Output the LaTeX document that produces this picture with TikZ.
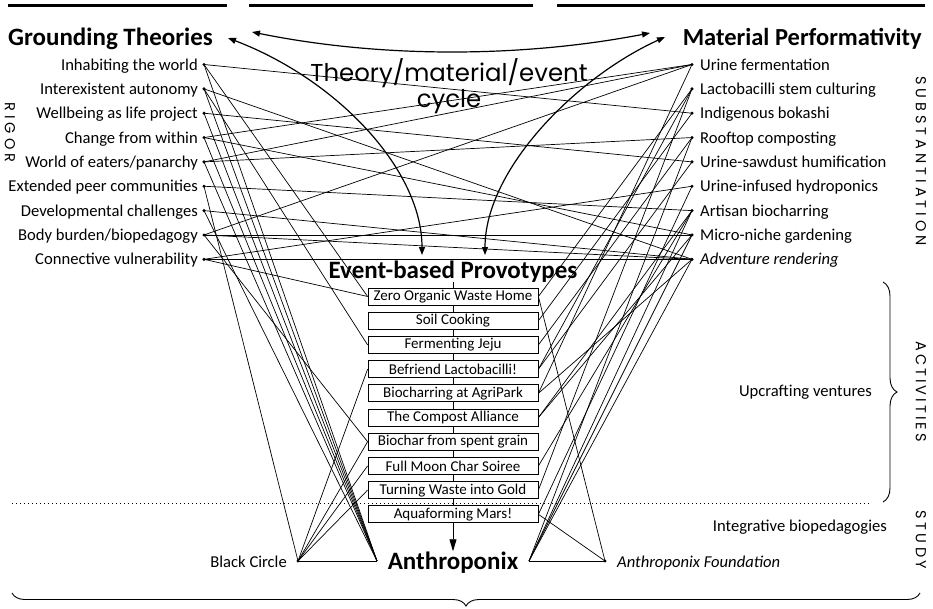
\documentclass[tikz,border=0pt]{standalone}
\usepackage{fontspec}
\setmainfont{Carlito}
\newfontfamily\popp{Poppins}
\usetikzlibrary{arrows.meta,decorations.pathreplacing,backgrounds}
\newcommand{\spaced}[2]{{\spaceskip=#1\relax #2}}
\begin{document}
\begin{tikzpicture}[x=1pt,y=-1pt,
  every node/.style={inner sep=0pt},
  lbl/.style={font=\fontsize{16.6}{18}\selectfont},
  ttl/.style={font=\fontsize{25}{27}\selectfont\bfseries},
  dot/.style={circle,fill=black,minimum size=3.4pt,inner sep=0pt},
  box/.style={draw,fill=white,minimum width=170pt,minimum height=17pt,font=\fontsize{15}{16}\selectfont,line width=0.8pt},
  conn/.style={line width=0.7pt},
  arr/.style={line width=1.2pt,{Triangle[length=8pt,width=6pt]}-{Triangle[length=8pt,width=6pt]}},
  vlab/.style={font=\popp\fontsize{14.5}{15}\selectfont,rotate=-90},
]
\useasboundingbox (0,0) rectangle (933,608);

% top rules
\draw[line width=3pt] (8,5) -- (227,5);
\draw[line width=3pt] (249,5) -- (533,5);
\draw[line width=3pt] (557,5) -- (925,5);

% headings
\node[ttl,anchor=base west] (gt) at (8,45) {Grounding Theories};
\node[ttl,anchor=base east,font=\fontsize{24.5}{27}\selectfont\bfseries] (mp) at (922,45) {Material Performativity};
\node[ttl,anchor=base] (ev) at (453,278) {Event-based Provotypes};
\node[ttl,anchor=base] (an) at (453,569) {Anthroponix};
\node[font=\popp\fontsize{24.4}{22}\selectfont,align=center] (cyc) at (449,86) {Theory/material/event\\cycle};

% left items
\node[lbl,anchor=base east] (tl1) at (198,70.0) {Inhabiting the world};
\node[lbl,anchor=base east] (tl2) at (198,94.35) {Interexistent autonomy};
\node[lbl,anchor=base east] (tl3) at (198,118.7) {Wellbeing as life project};
\node[lbl,anchor=base east] (tl4) at (198,143.05) {Change from within};
\node[lbl,anchor=base east] (tl5) at (198,167.4) {World of eaters/panarchy};
\node[lbl,anchor=base east] (tl6) at (198,191.75) {Extended peer communities};
\node[lbl,anchor=base east] (tl7) at (198,216.1) {Developmental challenges};
\node[lbl,anchor=base east] (tl8) at (198,240.45) {Body burden/biopedagogy};
\node[lbl,anchor=base east] (tl9) at (198,264.8) {Connective vulnerability};
\node[dot] (l1) at (204,64.5) {};
\node[dot] (l2) at (204,88.85) {};
\node[dot] (l3) at (204,113.2) {};
\node[dot] (l4) at (204,137.55) {};
\node[dot] (l5) at (204,161.9) {};
\node[dot] (l6) at (204,186.25) {};
\node[dot] (l7) at (204,210.6) {};
\node[dot] (l8) at (204,234.95) {};
\node[dot] (l9) at (204,259.3) {};

% right items
\node[lbl,anchor=base west] (tr1) at (700,70.0) {Urine fermentation};
\node[lbl,anchor=base west] (tr2) at (700,94.35) {Lactobacilli stem culturing};
\node[lbl,anchor=base west] (tr3) at (700,118.7) {Indigenous bokashi};
\node[lbl,anchor=base west] (tr4) at (700,143.05) {Rooftop composting};
\node[lbl,anchor=base west] (tr5) at (700,167.4) {Urine-sawdust humification};
\node[lbl,anchor=base west] (tr6) at (700,191.75) {Urine-infused hydroponics};
\node[lbl,anchor=base west] (tr7) at (700,216.1) {Artisan biocharring};
\node[lbl,anchor=base west] (tr8) at (700,240.45) {Micro-niche gardening};
\node[lbl,anchor=base west] (tr9) at (700,264.8) {\itshape Adventure rendering};
\node[dot] (r1) at (692,64.5) {};
\node[dot] (r2) at (692,88.85) {};
\node[dot] (r3) at (692,113.2) {};
\node[dot] (r4) at (692,137.55) {};
\node[dot] (r5) at (692,161.9) {};
\node[dot] (r6) at (692,186.25) {};
\node[dot] (r7) at (692,210.6) {};
\node[dot] (r8) at (692,234.95) {};
\node[dot] (r9) at (692,259.3) {};

% boxes
\node[box] (b1) at (453,296.5) {Zero Organic Waste Home};
\node[box] (b2) at (453,320.7) {Soil Cooking};
\node[box] (b3) at (453,344.9) {Fermenting Jeju};
\node[box] (b4) at (453,369.1) {Befriend Lactobacilli!};
\node[box] (b5) at (453,393.3) {Biocharring at AgriPark};
\node[box] (b6) at (453,417.5) {The Compost Alliance};
\node[box] (b7) at (453,441.7) {Biochar from spent grain};
\node[box] (b8) at (453,465.9) {Full Moon Char Soiree};
\node[box] (b9) at (453,490.1) {Turning Waste into Gold};
\node[box] (b10) at (453,514.3) {Aquaforming Mars!};

% bottom items
\node[lbl,anchor=base east] (tbc) at (287,567) {Black Circle};
\node[dot] (bc) at (298,561) {};
\node[lbl,anchor=base west] (taf) at (617,567) {\itshape Anthroponix Foundation};
\node[dot] (af) at (605,561) {};
\coordinate (anl) at (377,561);
\coordinate (anr) at (529,561);

% side texts
\node[lbl,anchor=base east] (upc) at (872,396) {Upcrafting ventures};
\node[lbl,anchor=base east] (ibp) at (887,531) {Integrative biopedagogies};
\node[vlab] (rig) at (10,132.5) {\spaced{4pt}{R I G O R}};
\node[vlab] (sub) at (921,161) {\spaced{4pt}{S U B S T A N T I A T I O N}};
\node[vlab] (act) at (921,391.5) {\spaced{3pt}{A C T I V I T I E S}};
\node[vlab] (stu) at (921,540) {\spaced{3.4pt}{S T U D Y}};

% cycle arrow end points
\coordinate (ga) at (228,38);
\coordinate (gb) at (252,32);
\coordinate (ma) at (650,33);
\coordinate (mb) at (665,37);
\coordinate (ea) at (422,255);
\coordinate (eb) at (485,255);

\begin{scope}[on background layer]
  % theory - material
  \draw[conn] (l1.center) -- (r3.center);
  \draw[conn] (l2.center) -- (r9.center);
  \draw[conn] (l3.center) -- (r5.center);
  \draw[conn] (l4.center) -- (r1.center);
  \draw[conn] (l4.center) -- (r8.center);
  \draw[conn] (l5.center) -- (r1.center);
  \draw[conn] (l5.center) -- (r4.center);
  \draw[conn] (l6.center) -- (r7.center);
  \draw[conn] (l7.center) -- (r9.center);
  \draw[conn] (l8.center) -- (r1.center);
  \draw[conn] (l8.center) -- (r8.center);
  \draw[conn] (l8.center) -- (r9.center);
  \draw[conn] (l9.center) -- (r9.center);
  \draw[conn] (l9.center) -- (r6.center);
  % theory - events
  \draw[conn] (l1.center) -- (b1.west);
  \draw[conn] (l9.center) -- (b1.west);
  \draw[conn] (l2.center) -- (b3.west);
  \draw[conn] (l8.center) -- (b7.west);
  \draw[conn] (l1.center) -- (anl);
  \draw[conn] (l2.center) -- (anl);
  \draw[conn] (l3.center) -- (anl);
  \draw[conn] (l4.center) -- (anl);
  \draw[conn] (l5.center) -- (anl);
  \draw[conn] (l7.center) -- (anl);
  \draw[conn] (l6.center) -- (bc.center);
  % black circle
  \draw[conn] (bc.center) -- (b4.west);
  \draw[conn] (bc.center) -- (b7.west);
  \draw[conn] (bc.center) -- (b8.west);
  \draw[conn] (bc.center) -- (b9.west);
  \draw[conn] (bc.center) -- (anl);
  % material - events
  \draw[conn] (r1.center) -- (b5.east);
  \draw[conn] (r9.center) -- (b5.east);
  \draw[conn] (r2.center) -- (b1.east);
  \draw[conn] (r2.center) -- (b4.east);
  \draw[conn] (r5.center) -- (b4.east);
  \draw[conn] (r2.center) -- (b9.east);
  \draw[conn] (r3.center) -- (b2.east);
  \draw[conn] (r4.center) -- (b3.east);
  \draw[conn] (r7.center) -- (b8.east);
  \draw[conn] (r6.center) -- (b10.east);
  \draw[conn] (r7.center) -- (b6.east);
  \draw[conn] (r8.center) -- (b6.east);
  \draw[conn] (r4.center) -- (anr);
  \draw[conn] (r7.center) -- (anr);
  \draw[conn] (r8.center) -- (anr);
  \draw[conn] (r9.center) -- (anr);
  % foundation
  \draw[conn] (b1.east) -- (af.center);
  \draw[conn] (b10.east) -- (af.center);
  \draw[conn] (anr) -- (af.center);
  % spine
  \draw[line width=0.8pt,-{Triangle[length=12pt,width=7pt]}] (ev.south) -- (an.north);
\end{scope}

% cycle arrows
\draw[arr] (gb) .. controls (380,58) and (520,58) .. (ma);
\draw[arr] (ga) .. controls (338,80) and (422,170) .. (ea);
\draw[arr] (mb) .. controls (575,78) and (485,170) .. (eb);

% dotted divider
\draw[line width=0.8pt,dash pattern=on 1pt off 3pt] (12,503) -- (872,503);

% braces
\draw[line width=0.9pt,decorate,decoration={brace,amplitude=14pt}] (883,282) -- (883,502);
\draw[line width=0.9pt,decorate,decoration={brace,mirror,amplitude=13pt}] (12,593) -- (920,593);
\end{tikzpicture}
\end{document}
